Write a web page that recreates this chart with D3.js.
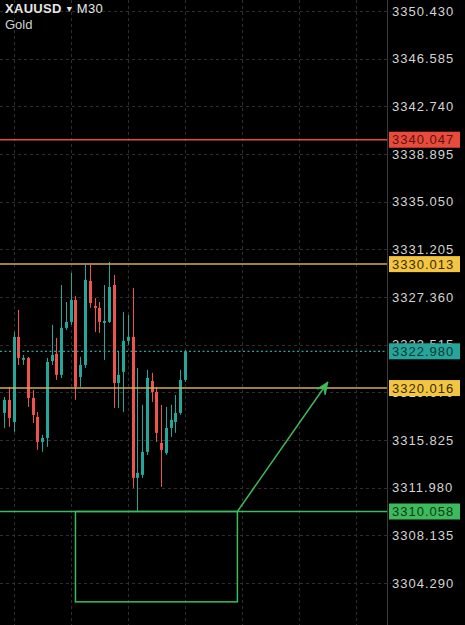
<!DOCTYPE html>
<html><head><meta charset="utf-8">
<script src="https://cdn.jsdelivr.net/npm/d3@7"></script>
<style>
html,body{margin:0;padding:0;background:#000;}
svg{display:block;}
</style></head>
<body>
<svg id="chart" width="465" height="625"></svg>
<script>
// ---- data ----
const symbol = "XAUUSD";
const timeframe = "M30";
const instrument = "Gold";
const opens  = [3318.01,3319.06,3317.28,3324.14,3322.29,3322.45,3319.22,3317.69,3315.67,3315.99,3322.20,3322.77,3321.08,3324.87,3325.35,3327.12,3320.91,3321.88,3328.66,3326.64,3326.48,3325.27,3325.35,3328.33,3320.43,3321.32,3323.82,3324.14,3312.77,3313.01,3314.87,3320.59,3319.70,3315.59,3314.78,3316.80,3317.28,3318.01,3320.67];
const highs  = [3319.30,3320.11,3324.54,3326.32,3322.69,3322.53,3319.87,3318.09,3316.24,3322.45,3325.11,3324.06,3328.33,3326.96,3329.30,3327.45,3322.53,3329.95,3329.95,3327.28,3326.96,3328.33,3330.19,3329.14,3322.93,3326.16,3325.91,3328.09,3321.64,3318.66,3321.48,3321.24,3320.11,3318.66,3318.49,3318.66,3319.46,3321.48,3323.09];
const lows   = [3316.80,3316.88,3316.48,3321.88,3321.88,3318.49,3317.20,3315.03,3314.87,3315.27,3321.88,3320.67,3320.83,3324.70,3325.11,3319.06,3320.11,3321.64,3326.48,3324.54,3324.46,3322.29,3325.27,3318.41,3318.41,3318.09,3323.50,3311.96,3310.10,3312.77,3314.62,3318.90,3315.67,3312.04,3314.62,3316.08,3316.40,3317.85,3320.51];
const closes = [3319.06,3317.61,3324.14,3322.45,3322.45,3319.22,3317.85,3315.67,3315.99,3322.12,3322.69,3321.08,3324.87,3325.35,3327.12,3320.11,3321.88,3328.74,3326.88,3326.48,3325.35,3325.43,3328.17,3320.43,3321.08,3323.82,3324.14,3312.77,3313.17,3314.87,3320.83,3319.70,3316.40,3315.03,3316.80,3317.45,3318.01,3320.67,3322.98];
const tickLabels = ["3350.430","3346.585","3342.740","3338.895","3335.050","3331.205","3327.360","3323.515","3319.670","3315.825","3311.980","3308.135","3304.290"];
const levelValues = [3340.047, 3330.013, 3320.016, 3310.058];
const levelKinds  = ["red", "yellow", "yellow", "green"];
const lastPrice = 3322.980;
const gridIndices = [2, 14, 26, 38, 50, 62, 74];
const zoneIndex = [15, 49];
const zoneBottom = 3302.77;
const arrowIndex = [49, 68];
const arrowPrice = [3310.058, 3320.50];

// ---- styles ----
const C = {
  up: "#26a69a", down: "#ef5350",
  red: "#e84b3c", yellow: "#f4c542", yellowLine: "#d2ae55", green: "#3dbb5c",
  teal: "#26a69a", grid: "#2e2e2e", axis: "#3a3a3a", text: "#d4d4d4"
};
const font = "'Liberation Sans', Arial, sans-serif";

const svg = d3.select("#chart");
const W = 465, H = 625, axisX = 387;

const y = d3.scaleLinear().domain([3304.29, 3350.43]).range([583, 11]);
const x = d3.scaleLinear().domain([0, 38]).range([4, 185]);

svg.append("rect").attr("width", W).attr("height", H).attr("fill", "#000");

// vertical grid
svg.append("g").selectAll("line").data(gridIndices).join("line")
  .attr("x1", d => Math.round(x(d)) + 0.5).attr("x2", d => Math.round(x(d)) + 0.5)
  .attr("y1", 0).attr("y2", H)
  .attr("stroke", C.grid).attr("stroke-dasharray", "3,3");

// horizontal grid
const tickVals = tickLabels.map(Number);
svg.append("g").selectAll("line").data(tickVals).join("line")
  .attr("x1", 0).attr("x2", 391)
  .attr("y1", d => Math.round(y(d)) + 0.5).attr("y2", d => Math.round(y(d)) + 0.5)
  .attr("stroke", C.grid).attr("stroke-dasharray", "3,3");

// axis line
svg.append("line").attr("x1", axisX + 0.5).attr("x2", axisX + 0.5).attr("y1", 0).attr("y2", H)
  .attr("stroke", C.axis).attr("stroke-width", 1);

// tick labels
svg.append("g").selectAll("text").data(tickLabels).join("text")
  .attr("x", 392).attr("y", d => y(+d))
  .attr("dominant-baseline", "central")
  .attr("fill", C.text).attr("font-family", font).attr("font-size", 13)
  .attr("letter-spacing", 1)
  .text(d => d);

// candles
const idx = d3.range(opens.length);
const cg = svg.append("g");
cg.selectAll("line").data(idx).join("line")
  .attr("x1", i => Math.round(x(i)) + 0.5).attr("x2", i => Math.round(x(i)) + 0.5)
  .attr("y1", i => y(highs[i])).attr("y2", i => y(lows[i]))
  .attr("stroke", i => closes[i] >= opens[i] ? C.up : C.down).attr("stroke-width", 1);
cg.selectAll("rect").data(idx).join("rect")
  .attr("x", i => Math.round(x(i)) - 1).attr("width", 3)
  .attr("y", i => y(Math.max(opens[i], closes[i])))
  .attr("height", i => Math.max(1.2, Math.abs(y(opens[i]) - y(closes[i]))))
  .attr("fill", i => closes[i] >= opens[i] ? C.up : C.down);

// level lines
const lineColor = k => k === "red" ? C.red : k === "yellow" ? C.yellowLine : C.green;
svg.append("g").selectAll("line").data(levelValues).join("line")
  .attr("x1", 0).attr("x2", axisX)
  .attr("y1", d => y(d)).attr("y2", d => y(d))
  .attr("stroke", (d, i) => lineColor(levelKinds[i])).attr("stroke-width", 1.5);

// last price dotted line
svg.append("line").attr("x1", 0).attr("x2", axisX)
  .attr("y1", y(lastPrice)).attr("y2", y(lastPrice))
  .attr("stroke", C.teal).attr("stroke-width", 1.3).attr("stroke-dasharray", "2,2.5");

// zone rectangle
svg.append("rect")
  .attr("x", x(zoneIndex[0])).attr("y", y(levelValues[3]))
  .attr("width", x(zoneIndex[1]) - x(zoneIndex[0]))
  .attr("height", y(zoneBottom) - y(levelValues[3]))
  .attr("fill", "none").attr("stroke", C.green).attr("stroke-width", 1.5);

// arrow
const ax1 = x(arrowIndex[0]), ay1 = y(arrowPrice[0]), ax2 = x(arrowIndex[1]), ay2 = y(arrowPrice[1]);
svg.append("line").attr("x1", ax1).attr("y1", ay1).attr("x2", ax2).attr("y2", ay2)
  .attr("stroke", C.green).attr("stroke-width", 1.5);
const ang = Math.atan2(ay2 - ay1, ax2 - ax1);
const hl = 12, hw = 5;
const bx = ax2 - hl * Math.cos(ang), by = ay2 - hl * Math.sin(ang);
const inner = 0.6;
const mx = ax2 - hl * inner * Math.cos(ang), my = ay2 - hl * inner * Math.sin(ang);
svg.append("path")
  .attr("d", `M${ax2},${ay2} L${bx + hw * Math.sin(ang)},${by - hw * Math.cos(ang)} L${mx},${my} L${bx - hw * Math.sin(ang)},${by + hw * Math.cos(ang)} Z`)
  .attr("fill", C.green).attr("stroke", C.green).attr("stroke-width", 1);

// price label boxes
const boxes = [
  ...levelValues.map((v, i) => ({ v, kind: levelKinds[i] })),
  { v: lastPrice, kind: "teal" }
];
const boxFill = k => ({ red: C.red, yellow: C.yellow, green: C.green, teal: C.teal })[k];
const boxText = k => ({ red: "#5e120c", yellow: "#3a2c00", green: "#0c3a18", teal: "#0a3632" })[k];
const bg = svg.append("g");
bg.selectAll("rect").data(boxes).join("rect")
  .attr("x", 389).attr("width", 71).attr("y", d => y(d.v) - 8).attr("height", 16)
  .attr("fill", d => boxFill(d.kind));
bg.selectAll("text").data(boxes).join("text")
  .attr("x", 392).attr("y", d => y(d.v))
  .attr("dominant-baseline", "central")
  .attr("fill", d => boxText(d.kind)).attr("font-family", font).attr("font-size", 13)
  .attr("letter-spacing", 1)
  .text(d => d.v.toFixed(3));

// title
const t = svg.append("text").attr("x", 5).attr("y", 13)
  .attr("font-family", font).attr("font-size", 13).attr("fill", "#e6e6e6");
t.append("tspan").attr("font-weight", "bold").attr("letter-spacing", 0.3).text(symbol);
t.append("tspan").attr("dx", 5).attr("dy", -1).attr("font-size", 10).attr("font-family", "'DejaVu Sans', sans-serif").text("▾");
t.append("tspan").attr("dx", 5).attr("dy", 1).attr("letter-spacing", 0.4).text(timeframe);
svg.append("text").attr("x", 5).attr("y", 29)
  .attr("font-family", font).attr("font-size", 13).attr("fill", "#d0d0d0")
  .text(instrument);
</script>
</body></html>
